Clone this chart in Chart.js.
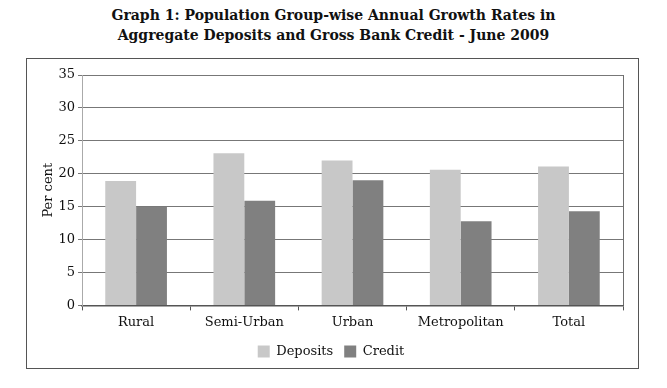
<!DOCTYPE html>
<html>
<head>
<meta charset="utf-8">
<script src="https://cdn.jsdelivr.net/npm/chart.js@4.4.0/dist/chart.umd.min.js"></script>
<style>
  body { margin: 0; background: #fff; width: 667px; height: 388px; overflow: hidden; position: relative; }
  #title { position: absolute; left: 0; top: 5px; width: 667px; text-align: center;
    font-family: "DejaVu Serif", serif; font-weight: bold; font-size: 14px; line-height: 20px; color: #111; }
  #box { position: absolute; left: 26px; top: 58px; width: 611px; height: 309px; border: 1.5px solid #555; }
  #box canvas { display: block; }
</style>
</head>
<body>
<div id="title">Graph 1: Population Group-wise Annual Growth Rates in<br>Aggregate Deposits and Gross Bank Credit - June 2009</div>
<div id="box"><canvas id="chart" width="611" height="309"></canvas></div>
<script>
const categories = ["Rural", "Semi-Urban", "Urban", "Metropolitan", "Total"];
const deposits = [18.9, 23.1, 22.0, 20.6, 21.1];
const credit = [15.0, 15.9, 19.0, 12.8, 14.3];
const yTicks = [0, 5, 10, 15, 20, 25, 30, 35];

const font = { family: "DejaVu Serif", size: 13 };

// frame line on the right side of the plot
const plotFrame = {
  id: "plotFrame",
  afterDraw(chart) {
    const a = chart.chartArea;
    const c = chart.ctx;
    c.save();
    c.strokeStyle = "#6e6e6e";
    c.lineWidth = 1;
    c.beginPath();
    c.moveTo(a.right + 0.5, a.top);
    c.lineTo(a.right + 0.5, a.bottom);
    c.stroke();
    c.restore();
  }
};

new Chart(document.getElementById("chart").getContext("2d"), {
  type: "bar",
  data: {
    labels: categories,
    datasets: [
      { label: "Deposits", data: deposits, backgroundColor: "#c8c8c8" },
      { label: "Credit", data: credit, backgroundColor: "#808080" }
    ]
  },
  options: {
    responsive: false,
    animation: false,
    layout: { padding: { top: 16, right: 15, left: 12, bottom: 0 } },
    datasets: { bar: { categoryPercentage: 0.57, barPercentage: 1.0 } },
    plugins: {
      legend: {
        position: "bottom",
        labels: { font: font, color: "#111", boxWidth: 12, boxHeight: 12, padding: 11 }
      },
      tooltip: { enabled: false }
    },
    scales: {
      x: {
        grid: { offset: true, drawOnChartArea: false, tickLength: 5, color: "#555" },
        border: { color: "#555", width: 1.5 },
        ticks: { font: font, color: "#111", padding: 4 }
      },
      y: {
        min: 0,
        max: 35,
        afterBuildTicks(axis) { axis.ticks = yTicks.map(v => ({ value: v })); },
        afterFit(axis) { axis.width = 43; },
        grid: { color: "#777", tickLength: 4 },
        border: { color: "#aaa" },
        ticks: { font: font, color: "#111", padding: 3 },
        title: { display: true, text: "Per cent", font: font, color: "#111", padding: 2 }
      }
    }
  },
  plugins: [plotFrame]
});
</script>
</body>
</html>
